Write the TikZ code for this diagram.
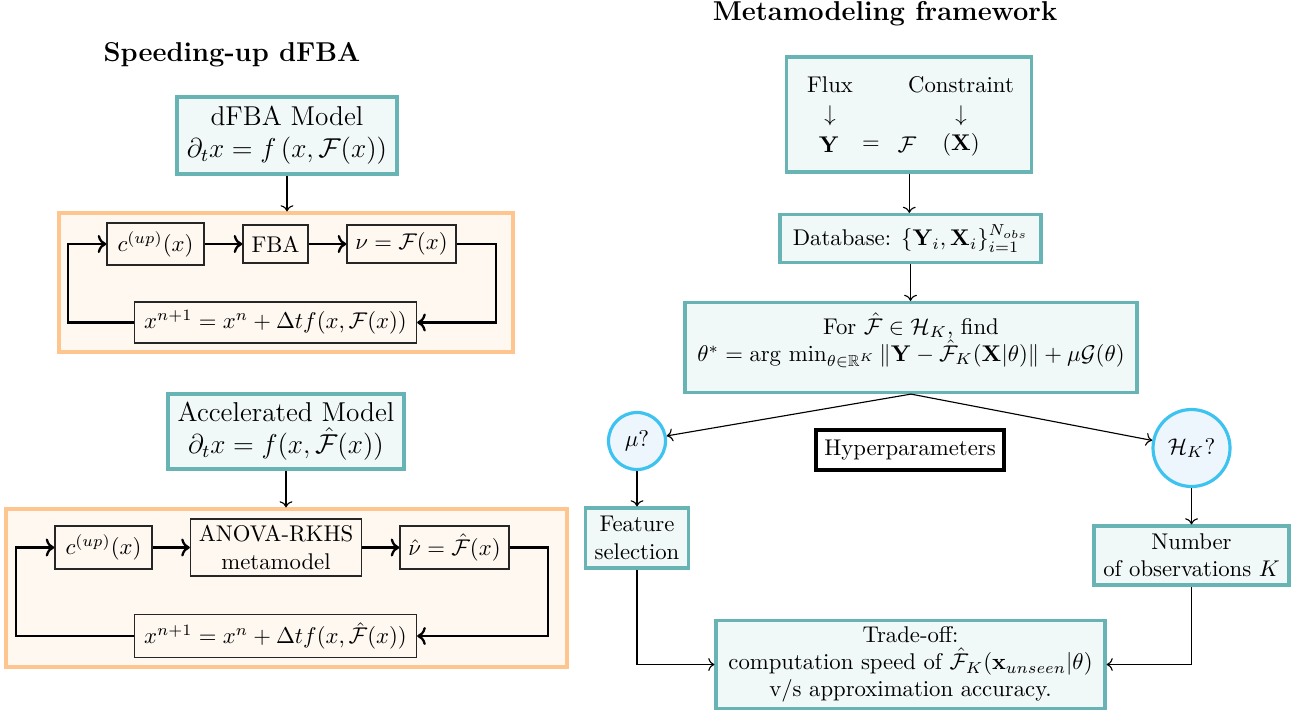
\documentclass[tikz,border=0pt]{standalone}
\usepackage{amsmath,amssymb}
\usetikzlibrary{arrows.meta}
\definecolor{tealb}{HTML}{68B4B4}
\definecolor{tealf}{HTML}{F1F8F8}
\definecolor{orb}{HTML}{FFC58F}
\definecolor{orf}{HTML}{FFF8F1}
\definecolor{cyanb}{HTML}{3EC3F0}
\definecolor{cyanf}{HTML}{EEF6FD}
\tikzset{
  tealbox/.style={draw=tealb, fill=tealf, line width=1.4pt, inner sep=0pt, align=center},
  orbox/.style={draw=orb, fill=orf, line width=1.4pt, inner sep=0pt},
  pbox/.style={draw=black!85, line width=0.6pt, inner sep=0pt, align=center},
  qcirc/.style={circle, draw=cyanb, fill=cyanf, line width=1.4pt, inner sep=0pt},
  hbox/.style={draw=black, line width=1.5pt, inner sep=0pt},
  arr/.style={->, line width=0.5pt},
  tarr/.style={->, line width=1pt},
  ttl/.style={font=\large\bfseries, inner sep=0pt},
  plaintext/.style={inner sep=0pt}
}
\begin{document}
\begin{tikzpicture}[x=0.44pt, y=-0.44pt]
\useasboundingbox (0,0) rectangle (1295,713);
% titles
\node[ttl] (t1) at (232,55) {Speeding-up dFBA};
\node[ttl] (t2) at (885,14) {Metamodeling framework};
% left top block
\node[tealbox, minimum width=220*0.44pt, minimum height=77*0.44pt, font=\large] (dfba) at (287,135.5)
  {dFBA Model\\ $\partial_t x = f\left(x,\mathcal{F}(x)\right)$};
\node[orbox, minimum width=454*0.44pt, minimum height=139*0.44pt] (ob1) at (286,282.5) {};
\node[pbox, minimum width=97*0.44pt, minimum height=42*0.44pt] (c1) at (155.5,244) {$c^{(up)}(x)$};
\node[pbox, minimum width=65*0.44pt, minimum height=38*0.44pt] (fba) at (275.5,244) {FBA};
\node[pbox, minimum width=109*0.44pt, minimum height=38*0.44pt] (nu1) at (401.5,244) {$\nu=\mathcal{F}(x)$};
\node[pbox, minimum width=282*0.44pt, minimum height=41*0.44pt] (bot1) at (275.5,322.5) {$x^{n+1}=x^{n}+\Delta t f(x,\mathcal{F}(x))$};
\draw[arr] (dfba.south) -- (dfba.south |- ob1.north);
\draw[tarr] (c1) -- (fba);
\draw[tarr] (fba) -- (nu1);
\draw[tarr] (nu1.east) -- ++(39,0) |- (bot1.east);
\draw[tarr] (bot1.west) -- ++(-66,0) |- (c1.west);
% left bottom block
\node[tealbox, minimum width=236*0.44pt, minimum height=75*0.44pt, font=\large] (acc) at (286,431.5)
  {Accelerated Model\\ $\partial_t x = f(x,\hat{\mathcal{F}}(x))$};
\node[orbox, minimum width=561*0.44pt, minimum height=158*0.44pt] (ob2) at (286.5,588) {};
\node[pbox, minimum width=97*0.44pt, minimum height=43*0.44pt] (c2) at (103.5,547.5) {$c^{(up)}(x)$};
\node[pbox, minimum width=171*0.44pt, minimum height=57*0.44pt] (anova) at (276,547.5) {ANOVA-RKHS\\ metamodel};
\node[pbox, minimum width=109*0.44pt, minimum height=43*0.44pt] (nu2) at (454.5,547.5) {$\hat{\nu}=\hat{\mathcal{F}}(x)$};
\node[pbox, minimum width=282*0.44pt, minimum height=43*0.44pt] (bot2) at (275.5,636) {$x^{n+1}=x^{n}+\Delta t f(x,\hat{\mathcal{F}}(x))$};
\draw[arr] (acc.south) -- (acc.south |- ob2.north);
\draw[tarr] (c2) -- (anova);
\draw[tarr] (anova) -- (nu2);
\draw[tarr] (nu2.east) -- ++(38,0) |- (bot2.east);
\draw[tarr] (bot2.west) -- ++(-118,0) |- (c2.west);
% right side
\node[tealbox, minimum width=245*0.44pt, minimum height=115*0.44pt] (top) at (909.3,114.5) {};
\node[plaintext] (flux) at (830,85) {Flux};
\node[plaintext] (cons) at (961,85) {Constraint};
\node[plaintext] (d1) at (830,116) {$\downarrow$};
\node[plaintext] (d2) at (961,116) {$\downarrow$};
\node[plaintext] (ey) at (829,145) {$\mathbf{Y}$};
\node[plaintext] (eq) at (871,145) {$=$};
\node[plaintext] (ef) at (907,145) {$\mathcal{F}$};
\node[plaintext] (ex) at (961,145) {$(\mathbf{X})$};
\node[tealbox, minimum width=261*0.44pt, minimum height=48*0.44pt] (db) at (910.5,238.5)
  {Database: $\{\mathbf{Y}_i,\mathbf{X}_i\}_{i=1}^{N_{obs}}$};
\node[tealbox, minimum width=452*0.44pt, minimum height=90*0.44pt] (for) at (911,347.5) {};
\node[plaintext, align=center] (fortext) at (911,340)
  {For $\hat{\mathcal{F}}\in\mathcal{H}_K$, find\\ $\theta^{*}=\arg\,\min_{\theta\in\mathbb{R}^K}\|\mathbf{Y}-\hat{\mathcal{F}}_K(\mathbf{X}|\theta)\|+\mu\mathcal{G}(\theta)$};
\node[hbox, minimum width=188*0.44pt, minimum height=40*0.44pt] (hyp) at (910,450) {Hyperparameters};
\node[qcirc, minimum size=57*0.44pt] (mu) at (637,441) {$\mu$?};
\node[qcirc, minimum size=77*0.44pt] (hk) at (1191.5,448) {$\mathcal{H}_K$?};
\node[tealbox, minimum width=103*0.44pt, minimum height=60*0.44pt] (feat) at (637,538) {Feature\\ selection};
\node[tealbox, minimum width=195*0.44pt, minimum height=59*0.44pt] (num) at (1191.5,555.5) {Number\\ of observations $K$};
\node[tealbox, minimum width=389*0.44pt, minimum height=88*0.44pt] (trade) at (910.5,664.5)
  {Trade-off:\\ computation speed of $\hat{\mathcal{F}}_K(\mathbf{x}_{unseen}|\theta)$\\ v/s approximation accuracy.};
\draw[arr] (top.south) -- (top.south |- db.north);
\draw[arr] (db.south) -- (db.south |- for.north);
\draw[arr] (for.south) -- (mu);
\draw[arr] (for.south) -- (hk);
\draw[arr] (mu.south) -- (mu.south |- feat.north);
\draw[arr] (hk.south) -- (hk.south |- num.north);
\draw[arr] (feat.south) |- (trade.west);
\draw[arr] (num.south) |- (trade.east);
\end{tikzpicture}
\end{document}
